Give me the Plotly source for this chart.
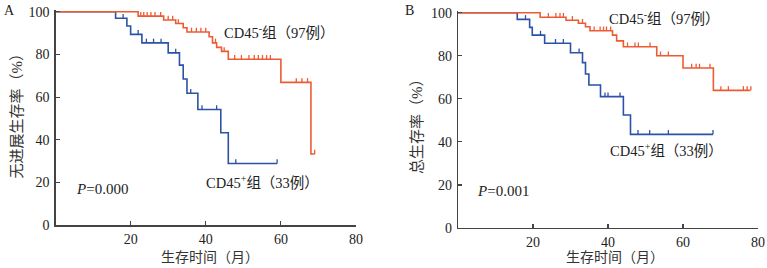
import plotly.graph_objects as go

# ---------------- data ----------------
# Panel A: progression-free survival
a_neg_drop_t = [22, 28.8, 32, 34, 35, 40.9, 41.8, 42.9, 44.2, 46, 60, 68]
a_neg_drop_s = [97.9, 96.1, 94.5, 92.5, 90.5, 88.3, 85.4, 83.3, 81.4, 77.7, 66.9, 33.4]
a_neg_end = 69
a_neg_cens = [5.9, 9.4, 10.3, 11.2, 12.1, 14, 15, 18, 21,
              22.7, 23.5, 24.4, 25.4, 26.5, 28, 30, 31.2, 32.7,
              36.2, 37.5, 38.7, 40, 42.6, 44.9,
              47.7, 49.5, 51.5, 52.9, 54, 55.1, 56.2, 57.2,
              64.1, 65.6, 67.1, 69]

a_pos_drop_t = [16, 19, 20, 23, 30, 33, 34, 35, 37.9, 44, 46]
a_pos_drop_s = [96.9, 93.3, 89.4, 85.4, 80.7, 75, 68.5, 61.8, 54.2, 43.3, 28.9]
a_pos_end = 59
a_pos_cens = [18, 22, 24.2, 26.1, 28.1, 32, 36, 39, 42.9, 48, 59]

# Panel B: overall survival
b_neg_drop_t = [21.9, 28.8, 32.1, 34, 35.2, 41.2, 42.3, 44.1, 53, 60, 68.1]
b_neg_drop_s = [97.9, 96.5, 95.1, 93.5, 91.6, 89.6, 86.9, 84.2, 80.0, 74.3, 63.9]
b_neg_end = 78
b_neg_cens = [6.1, 9, 9.9, 10.7, 11.9, 14.8, 17, 18.1, 21,
              24.1, 26.1, 27.2, 28.1, 30.5, 33.2,
              36.3, 37.9, 38.8, 39.6, 40.7,
              45.2, 47.2, 48.1, 51.2, 54, 56.1,
              62.3, 63.5, 64.4, 67.2, 70.1, 72.1, 76.1, 77.1, 78.1]

b_pos_drop_t = [15.8, 19.1, 19.8, 23.1, 30, 33.2, 34, 34.9, 38, 44.1, 46]
b_pos_drop_s = [96.9, 93.2, 89.6, 85.8, 81.4, 76.8, 71.5, 66.4, 61.0, 52.5, 43.5]
b_pos_end = 68
b_pos_cens = [18, 22, 26, 28.1, 32.3, 39.2, 40, 43.2, 48, 51.1, 56.1, 68]

x_ticks = [20, 40, 60, 80]
y_ticks = [0, 20, 40, 60, 80, 100]

label_neg = "CD45<sup>-</sup>组（97例）"
label_pos = "CD45<sup>+</sup>组（33例）"
p_a = "<i>P</i>=0.000"
p_b = "<i>P</i>=0.001"
ytitle_a = "无进展生存率（%）"
ytitle_b = "总生存率（%）"
xtitle = "生存时间（月）"

RED = "#EE5A32"
BLUE = "#2A52A8"
AX = "#444444"
W, H = 767, 268
SERIF = "Liberation Serif, Noto Sans CJK SC"


def level_at(t, drop_t, drop_s):
    s = 100.0
    for dt, ds in zip(drop_t, drop_s):
        if dt <= t:
            s = ds
    return s


fig = go.Figure()


def add_curve(drop_t, drop_s, end, cens, color, xa, ya):
    xs = [0] + list(drop_t) + [end]
    ys = [100] + list(drop_s) + [drop_s[-1]]
    fig.add_trace(go.Scatter(x=xs, y=ys, mode="lines", line=dict(color=color, width=1.6, shape="hv"),
                             xaxis=xa, yaxis=ya, showlegend=False, hoverinfo="skip"))
    cy = [level_at(t, drop_t, drop_s) + 1.0 for t in cens]
    fig.add_trace(go.Scatter(x=cens, y=cy, mode="markers", cliponaxis=False,
                             marker=dict(symbol="line-ns", size=3, line=dict(color=color, width=1.3)),
                             xaxis=xa, yaxis=ya, showlegend=False, hoverinfo="skip"))


add_curve(a_pos_drop_t, a_pos_drop_s, a_pos_end, a_pos_cens, BLUE, "x", "y")
add_curve(a_neg_drop_t, a_neg_drop_s, a_neg_end, a_neg_cens, RED, "x", "y")
add_curve(b_pos_drop_t, b_pos_drop_s, b_pos_end, b_pos_cens, BLUE, "x2", "y2")
add_curve(b_neg_drop_t, b_neg_drop_s, b_neg_end, b_neg_cens, RED, "x2", "y2")

axis_common = dict(showline=True, linecolor=AX, linewidth=1.2, ticks="inside", ticklen=4,
                   tickcolor=AX, tickwidth=1.2, showgrid=False, zeroline=False,
                   automargin=False, ticklabeloverflow="allow",
                   tickfont=dict(family=SERIF, size=14, color="#222"), fixedrange=True)

fig.update_layout(
    width=W, height=H, autosize=False,
    margin=dict(l=0, r=0, t=0, b=0, autoexpand=False),
    paper_bgcolor="white", plot_bgcolor="white",
    xaxis=dict(domain=[55.5 / W, 356 / W], range=[0, 80], tickvals=x_ticks, anchor="y",
               ticklabelstandoff=1, **axis_common),
    yaxis=dict(domain=[1 - 225.3 / H, 1 - 10.4 / H], range=[0, 100.6], tickvals=y_ticks, anchor="x",
               ticklabelstandoff=2, **axis_common),
    xaxis2=dict(domain=[458 / W, 758 / W], range=[0, 80], tickvals=x_ticks, anchor="y2",
                ticklabelstandoff=1, **axis_common),
    yaxis2=dict(domain=[1 - 228 / H, 1 - 11.4 / H], range=[0, 100.6], tickvals=y_ticks, anchor="x2",
                ticklabelstandoff=2, **axis_common),
)


def ann(text, px, py, xanchor="left", size=14.5, color="#222", angle=0, family=SERIF):
    fig.add_annotation(text=text, x=px / W, y=1 - py / H, xref="paper", yref="paper",
                       xanchor=xanchor, yanchor="middle", showarrow=False, textangle=angle,
                       font=dict(family=family, size=size, color=color))


ann("A", 9.5, 10.5, xanchor="center", size=14)
ann("B", 409, 10.5, xanchor="center", size=14)
ann(ytitle_a, 16.5, 112, xanchor="center", size=15, color="#333", angle=-90)
ann(ytitle_b, 417, 123, xanchor="center", size=15, color="#333", angle=-90)
ann(xtitle, 210, 257.5, xanchor="center", size=14, color="#333")
ann(xtitle, 615, 257.5, xanchor="center", size=14, color="#333")
ann(label_neg, 221.7, 31.7)
ann(label_pos, 204, 181.7)
ann(label_neg, 607, 18.3)
ann(label_pos, 608, 150)
ann(p_a, 74, 189, size=15)
ann(p_b, 474.7, 190.7, size=15)

fig.write_html(
    "out.html",
    config={"displayModeBar": False, "staticPlot": True},
    post_script=("document.documentElement.style.margin='0';document.documentElement.style.overflow='hidden';"
                 "document.body.style.margin='0';document.body.style.padding='0';"
                 "document.body.style.overflow='hidden';"),
)
